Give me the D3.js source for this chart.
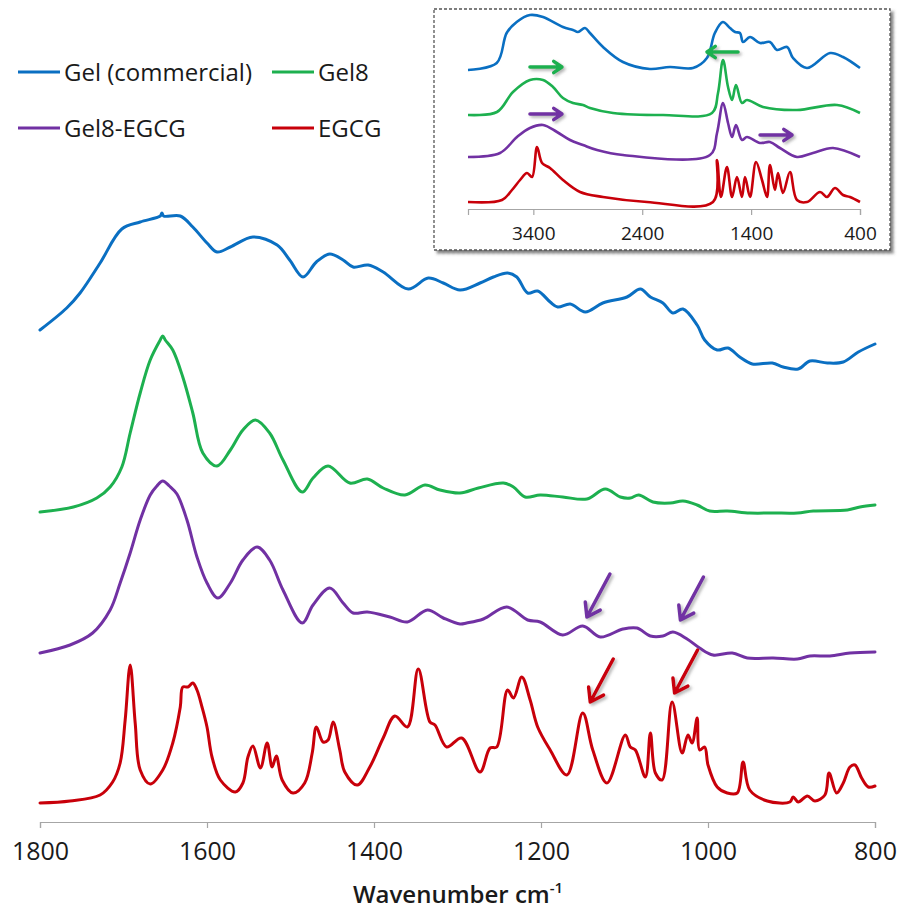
<!DOCTYPE html>
<html>
<head>
<meta charset="utf-8">
<script src="https://cdn.jsdelivr.net/npm/d3@7/dist/d3.min.js"></script>
<style>
  html, body { margin: 0; padding: 0; background: #fff; }
  svg { display: block; font-family: "Open Sans", "Noto Sans", sans-serif; }
</style>
</head>
<body>
<svg id="chart" width="901" height="917"></svg>
<script>
// FTIR spectra, 1800-800 cm-1, offset vertically (arbitrary units)
const gelCommercial = [
  [1800,4.92],[1768,5.14],[1752,5.29],[1728,5.59],[1702,5.93],[1680,6.00],[1656,6.06],[1654,6.09],[1652,6.06],
  [1632,6.06],[1617,5.95],[1600,5.79],[1588,5.70],[1572,5.75],[1545,5.85],[1516,5.77],[1501,5.62],[1485,5.45],
  [1469,5.60],[1453,5.68],[1437,5.62],[1425,5.55],[1407,5.57],[1389,5.50],[1359,5.33],[1335,5.44],[1317,5.39],
  [1297,5.32],[1273,5.39],[1257,5.45],[1240,5.49],[1229,5.45],[1216,5.29],[1204,5.31],[1189,5.20],[1180,5.15],
  [1165,5.18],[1147,5.10],[1126,5.19],[1097,5.25],[1081,5.33],[1069,5.25],[1054,5.19],[1042,5.09],[1030,5.13],
  [1013,4.97],[1004,4.82],[989,4.72],[976,4.74],[962,4.65],[947,4.58],[923,4.59],[910,4.55],[892,4.53],
  [878,4.61],[857,4.59],[838,4.60],[820,4.70],[800,4.78]
];
const gel8 = [
  [1800,3.10],[1760,3.15],[1732,3.24],[1716,3.35],[1702,3.55],[1692,3.89],[1680,4.29],[1668,4.62],[1656,4.82],
  [1653,4.86],[1650,4.82],[1641,4.72],[1629,4.45],[1617,4.09],[1605,3.69],[1588,3.56],[1572,3.72],[1557,3.92],
  [1542,4.02],[1525,3.89],[1509,3.62],[1486,3.30],[1473,3.44],[1455,3.56],[1429,3.39],[1408,3.43],[1389,3.34],
  [1363,3.27],[1339,3.37],[1321,3.32],[1297,3.29],[1275,3.34],[1245,3.39],[1233,3.35],[1219,3.25],[1201,3.27],
  [1174,3.25],[1145,3.23],[1123,3.33],[1105,3.25],[1093,3.24],[1083,3.27],[1066,3.20],[1045,3.19],[1030,3.21],
  [1013,3.17],[998,3.11],[977,3.11],[950,3.09],[922,3.09],[893,3.09],[874,3.11],[833,3.12],[818,3.15],[800,3.17]
];
const gel8Egcg = [
  [1800,1.69],[1764,1.77],[1737,1.89],[1716,2.12],[1704,2.39],[1692,2.69],[1680,3.02],[1668,3.27],[1660,3.36],
  [1653,3.41],[1645,3.36],[1636,3.28],[1624,3.02],[1612,2.65],[1600,2.39],[1587,2.24],[1572,2.39],[1557,2.62],
  [1540,2.75],[1525,2.62],[1509,2.32],[1486,1.99],[1473,2.17],[1453,2.34],[1437,2.19],[1425,2.09],[1408,2.10],
  [1381,2.05],[1360,2.00],[1336,2.12],[1317,2.04],[1297,1.98],[1289,1.99],[1269,2.03],[1241,2.15],[1216,2.02],
  [1201,2.00],[1174,1.87],[1150,1.96],[1129,1.85],[1102,1.93],[1085,1.94],[1069,1.86],[1054,1.86],[1042,1.90],
  [1025,1.83],[1010,1.74],[994,1.67],[971,1.69],[953,1.64],[922,1.64],[893,1.63],[878,1.66],[854,1.66],
  [830,1.69],[800,1.70]
];
const egcg = [
  [1800,0.19],[1764,0.21],[1728,0.27],[1713,0.40],[1704,0.59],[1698,1.02],[1692,1.57],[1686,0.99],[1680,0.52],
  [1668,0.38],[1653,0.52],[1641,0.79],[1632,1.15],[1629,1.35],[1623,1.35],[1617,1.39],[1612,1.32],[1606,1.15],
  [1600,0.95],[1594,0.65],[1584,0.42],[1566,0.30],[1557,0.39],[1551,0.65],[1545,0.76],[1536,0.54],[1528,0.79],
  [1522,0.55],[1517,0.66],[1510,0.42],[1497,0.29],[1483,0.39],[1474,0.69],[1469,0.95],[1461,0.80],[1455,0.82],
  [1449,1.00],[1441,0.72],[1435,0.50],[1420,0.37],[1405,0.55],[1389,0.84],[1375,1.06],[1360,0.95],[1347,1.53],
  [1333,1.00],[1327,0.97],[1313,0.75],[1295,0.84],[1273,0.50],[1261,0.74],[1253,0.75],[1240,1.32],[1233,1.24],
  [1223,1.45],[1213,1.22],[1204,0.95],[1189,0.72],[1169,0.47],[1150,1.09],[1138,0.72],[1121,0.39],[1099,0.87],
  [1093,0.75],[1087,0.72],[1075,0.45],[1069,0.89],[1063,0.49],[1055,0.42],[1043,1.20],[1031,0.69],[1024,0.87],
  [1019,0.79],[1013,1.04],[1010,0.72],[1004,0.75],[1000,0.57],[989,0.35],[977,0.29],[965,0.29],[958,0.60],
  [950,0.32],[929,0.21],[902,0.20],[898,0.25],[892,0.20],[881,0.26],[872,0.21],[860,0.27],[855,0.49],
  [846,0.29],[838,0.39],[830,0.55],[824,0.57],[816,0.44],[808,0.35],[800,0.36]
];

// Full-range spectra, 4000-400 cm-1 (inset)
const gelCommercialFull = [
  [4000,6.95],[3736,7.30],[3645,8.80],[3553,9.35],[3431,9.70],[3311,9.60],[3128,9.10],[3036,8.95],[2990,8.85],
  [2926,9.05],[2880,8.80],[2760,8.10],[2577,7.35],[2330,7.00],[2146,7.10],[1934,7.05],[1806,7.55],[1733,8.80],
  [1660,9.35],[1594,9.05],[1547,8.85],[1502,8.80],[1474,8.35],[1410,8.60],[1318,8.30],[1227,8.35],[1162,7.95],
  [1070,8.10],[1015,7.55],[887,7.05],[675,7.80],[556,7.60],[400,7.05]
];
const gel8Full = [
  [4000,4.70],[3734,4.85],[3587,5.85],[3431,6.45],[3311,6.45],[3219,6.10],[3128,5.55],[3036,5.30],[2944,5.20],
  [2880,5.05],[2668,4.80],[2209,4.70],[1759,4.80],[1704,5.80],[1658,7.45],[1612,6.10],[1575,5.45],[1539,6.20],
  [1484,5.30],[1438,5.45],[1291,5.10],[979,4.95],[611,5.20],[400,4.80]
];
const gel8EgcgFull = [
  [4000,2.60],[3706,2.80],[3550,3.60],[3431,4.05],[3311,4.20],[3183,3.85],[3063,3.45],[2944,3.20],[2815,2.95],
  [2577,2.70],[1778,2.70],[1713,3.80],[1658,5.30],[1612,4.30],[1575,3.60],[1539,4.20],[1484,3.45],[1438,3.60],
  [1318,3.30],[1227,3.35],[1135,3.05],[979,2.60],[832,2.80],[648,3.05],[400,2.60]
];
const egcgFull = [
  [4000,0.35],[3688,0.45],[3596,0.95],[3522,1.45],[3458,1.80],[3412,1.60],[3366,3.10],[3320,2.30],[3247,2.05],
  [3128,1.45],[2971,0.85],[2760,0.60],[2356,0.35],[1750,0.35],[1713,2.45],[1677,0.60],[1622,2.10],[1575,0.60],
  [1530,1.60],[1484,0.60],[1456,1.60],[1410,0.60],[1355,2.35],[1300,1.45],[1254,0.60],[1227,2.20],[1181,0.95],
  [1153,1.80],[1107,0.80],[1043,1.85],[979,0.45],[887,0.35],[767,0.85],[703,0.60],[630,1.05],[556,0.70],
  [492,0.60],[400,0.35]
];

const seriesNames = ["Gel (commercial)", "Gel8", "Gel8-EGCG", "EGCG"];
const seriesColors = ["#0a6fc2", "#1db04f", "#7131a3", "#c8000a"];
const mainSeries = [gelCommercial, gel8, gel8Egcg, egcg];
const insetSeries = [gelCommercialFull, gel8Full, gel8EgcgFull, egcgFull];

const mainTicks = [1800, 1600, 1400, 1200, 1000, 800];
const insetTicks = [3400, 2400, 1400, 400];
const axisTitle = "Wavenumber cm";

// Arrows marking shifted bands: [series index, wavenumber, value at tip]
const mainArrows = [[2, 1145, 2.05], [2, 1033, 2.02], [3, 1141, 1.20], [3, 1040, 1.29]];
// Inset arrows: [series index, from wavenumber, to wavenumber, level]
const insetArrows = [[1, 3431, 3137, 7.1], [1, 1520, 1805, 7.85], [2, 3431, 3137, 4.75], [2, 1318, 1024, 3.7]];

const svg = d3.select("#chart");
const defs = svg.append("defs");
const sh = defs.append("filter").attr("id", "shadow").attr("x", "-50%").attr("y", "-50%").attr("width", "200%").attr("height", "200%");
sh.append("feDropShadow").attr("dx", 2).attr("dy", 2).attr("stdDeviation", 1.4)
  .attr("flood-color", "#777").attr("flood-opacity", 0.55);
const bsh = defs.append("filter").attr("id", "boxshadow").attr("x", "-5%").attr("y", "-5%").attr("width", "110%").attr("height", "110%");
bsh.append("feDropShadow").attr("dx", 3).attr("dy", 3).attr("stdDeviation", 1.8)
  .attr("flood-color", "#444").attr("flood-opacity", 0.7);

// ---- main plot ----
const x = d3.scaleLinear().domain([1800, 800]).range([40, 875]);
const y = d3.scaleLinear().domain([0, 8.22]).range([822, 0]);

const mainLine = d3.line().x(d => x(d[0])).y(d => y(d[1])).curve(d3.curveCatmullRom.alpha(0.5));

svg.append("g").selectAll("path").data(mainSeries).join("path")
  .attr("d", mainLine)
  .attr("fill", "none")
  .attr("stroke", (d, i) => seriesColors[i])
  .attr("stroke-width", 3)
  .attr("stroke-linejoin", "round")
  .attr("stroke-linecap", "round");

const xAxis = svg.append("g").attr("transform", `translate(0,${y(0)})`)
  .call(d3.axisBottom(x).tickValues(mainTicks).tickFormat(d3.format("d")).tickSize(6).tickPadding(14));
xAxis.select(".domain").attr("stroke", "#a6a6a6").attr("stroke-width", 1.2);
xAxis.selectAll(".tick line").attr("stroke", "#a6a6a6").attr("stroke-width", 1.2);
xAxis.selectAll(".tick text").attr("font-size", 25).attr("fill", "#1a1a1a")
  .attr("font-family", "'Open Sans', sans-serif");

const title = svg.append("text").attr("x", 458).attr("y", 903).attr("text-anchor", "middle")
  .attr("font-size", 24).attr("font-weight", 600).attr("fill", "#1a1a1a");
title.append("tspan").text(axisTitle);
title.append("tspan").attr("font-size", 15).attr("dy", -10).text("-1");

// arrows on the main plot
function arrow(g, x1, y1, x2, y2, color, headLen, width) {
  const a = Math.atan2(y2 - y1, x2 - x1);
  const spread = 0.6;
  const h1 = [x2 - headLen * Math.cos(a - spread), y2 - headLen * Math.sin(a - spread)];
  const h2 = [x2 - headLen * Math.cos(a + spread), y2 - headLen * Math.sin(a + spread)];
  g.append("path")
    .attr("d", `M${x1},${y1}L${x2},${y2}M${h1[0]},${h1[1]}L${x2},${y2}L${h2[0]},${h2[1]}`)
    .attr("fill", "none").attr("stroke", color).attr("stroke-width", width)
    .attr("stroke-linecap", "round").attr("stroke-linejoin", "round")
    .attr("filter", "url(#shadow)");
}
const arrowG = svg.append("g");
mainArrows.forEach(([si, w, v]) => {
  const tx = x(w), ty = y(v);
  arrow(arrowG, tx + 23, ty - 43, tx, ty, seriesColors[si], 15, 3.5);
});

// ---- legend ----
const legend = svg.append("g");
const legendPos = [[18, 72], [272, 72], [18, 128], [272, 128]];
seriesNames.forEach((name, i) => {
  const [lx, ly] = legendPos[i];
  legend.append("line").attr("x1", lx).attr("x2", lx + 42).attr("y1", ly).attr("y2", ly)
    .attr("stroke", seriesColors[i]).attr("stroke-width", 3);
  legend.append("text").attr("x", lx + 46).attr("y", ly + 9).attr("font-size", 24)
    .attr("fill", "#1a1a1a").text(name);
});

// ---- inset ----
const inset = svg.append("g");
inset.append("rect").attr("x", 434).attr("y", 9).attr("width", 456).attr("height", 241)
  .attr("fill", "#fff").attr("stroke", "#555").attr("stroke-width", 1.3)
  .attr("stroke-dasharray", "3,2").attr("filter", "url(#boxshadow)");

const ix = d3.scaleLinear().domain([4000, 400]).range([468, 860]);
const iy = d3.scaleLinear().domain([0, 10]).range([209, 9]);
const insetLine = d3.line().x(d => ix(d[0])).y(d => iy(d[1])).curve(d3.curveCatmullRom.alpha(0.5));

inset.append("g").selectAll("path").data(insetSeries).join("path")
  .attr("d", insetLine)
  .attr("fill", "none")
  .attr("stroke", (d, i) => seriesColors[i])
  .attr("stroke-width", 2.6)
  .attr("stroke-linejoin", "round");

const iAxis = inset.append("g").attr("transform", `translate(0,${iy(0)})`)
  .call(d3.axisBottom(ix).tickValues(insetTicks).tickFormat(d3.format("d")).tickSize(6).tickPadding(12));
iAxis.select(".domain").attr("stroke", "#a6a6a6").attr("stroke-width", 1.2);
iAxis.selectAll(".tick line").attr("stroke", "#a6a6a6").attr("stroke-width", 1.2);
iAxis.selectAll(".tick text").attr("font-size", 19).attr("fill", "#1a1a1a")
  .attr("font-family", "'Open Sans', sans-serif");

insetArrows.forEach(([si, w1, w2, v]) => {
  arrow(inset, ix(w1), iy(v), ix(w2), iy(v), seriesColors[si], 10, 3.5);
});
</script>
</body>
</html>
